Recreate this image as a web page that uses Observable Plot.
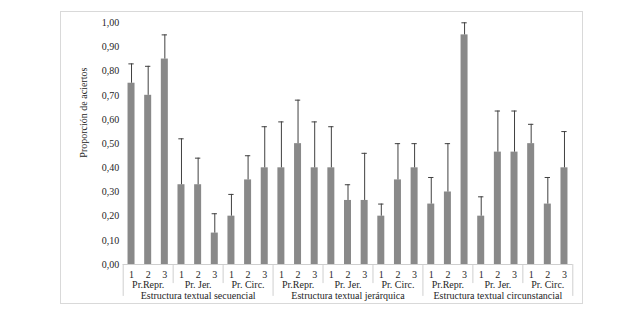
<!DOCTYPE html>
<html>
<head>
<meta charset="utf-8">
<script src="https://cdn.jsdelivr.net/npm/d3@7"></script>
<script src="https://cdn.jsdelivr.net/npm/@observablehq/plot@0.6"></script>
<style>
  html, body { margin: 0; padding: 0; background: #fff; }
  #wrap { position: relative; width: 640px; height: 323px; }
  #border { position: absolute; left: 60px; top: 11px; width: 521px; height: 291px; border: 1px solid #d9d9d9; }
  #chart { position: absolute; left: 0; top: 0; }
</style>
</head>
<body>
<div id="wrap"><div id="border"></div><div id="chart"></div></div>
<script>
const groups = ["Estructura textual secuencial", "Estructura textual jerárquica", "Estructura textual circunstancial"];
const subgroups = ["Pr.Repr.", "Pr. Jer.", "Pr. Circ."];
const levels = ["1", "2", "3"];
const means = [0.75, 0.70, 0.85, 0.33, 0.33, 0.13, 0.20, 0.35, 0.40,
               0.40, 0.50, 0.40, 0.40, 0.265, 0.265, 0.20, 0.35, 0.40,
               0.25, 0.30, 0.95, 0.20, 0.465, 0.465, 0.50, 0.25, 0.40];
const errors = [0.08, 0.12, 0.10, 0.19, 0.11, 0.08, 0.09, 0.10, 0.17,
                0.19, 0.18, 0.19, 0.17, 0.065, 0.195, 0.05, 0.15, 0.10,
                0.11, 0.20, 0.05, 0.08, 0.17, 0.17, 0.08, 0.11, 0.15];
const yTicks = [0, 0.1, 0.2, 0.3, 0.4, 0.5, 0.6, 0.7, 0.8, 0.9, 1.0];
const yTitle = "Proporción de aciertos";

const data = means.map((m, i) => ({
  i, mean: m, top: m + errors[i],
  level: levels[i % 3],
  sub: subgroups[Math.floor(i / 3) % 3],
  group: groups[Math.floor(i / 9)]
}));
const subData = [];
groups.forEach((g, gi) => subgroups.forEach((s, si) => subData.push({label: s, x: gi * 9 + si * 3 + 1.5})));
const groupData = groups.map((g, gi) => ({label: g, x: gi * 9 + 4.5}));
const shortSeps = [3, 6, 12, 15, 21, 24];
const longSeps = [0, 9, 18, 27];

const axisGray = "#cfcfcf";
const txt = "#262626";

const chart = Plot.plot({
  width: 640, height: 323,
  marginLeft: 122.7, marginRight: 67.7, marginTop: 22.3, marginBottom: 59,
  x: {domain: [0, 27], axis: null},
  y: {domain: [0, 1], axis: null},
  style: {fontFamily: "'Liberation Serif', 'Times New Roman', serif", fontSize: "10px", color: txt, background: "transparent"},
  marks: [
    Plot.axisY(yTicks, {tickSize: 0, tickPadding: 4, tickFormat: d => d.toFixed(2).replace(".", ","), label: null, fill: txt}),
    Plot.text([yTitle], {frameAnchor: "left", dx: -39, dy: 14, rotate: -90, fill: txt}),
    Plot.rectY(data, {x1: d => d.i + 0.29, x2: d => d.i + 0.71, y: "mean", fill: "#898989"}),
    Plot.ruleX(data, {x: d => d.i + 0.5, y1: "mean", y2: "top", stroke: "#404040", strokeWidth: 1}),
    Plot.ruleY(data, {y: "top", x1: d => d.i + 0.34, x2: d => d.i + 0.66, stroke: "#404040", strokeWidth: 1}),
    Plot.ruleY([0], {stroke: axisGray}),
    Plot.ruleX(shortSeps, {y1: 0, y2: -0.079, stroke: axisGray}),
    Plot.ruleX(longSeps, {y1: 0, y2: -0.132, stroke: axisGray}),
    Plot.text(data, {x: d => d.i + 0.5, y: 0, dy: 10, text: "level", fill: txt}),
    Plot.text(subData, {x: "x", y: 0, dy: 20, text: "label", fill: txt}),
    Plot.text(groupData, {x: "x", y: 0, dy: 31, text: "label", fill: txt})
  ]
});
document.getElementById("chart").appendChild(chart);
</script>
</body>
</html>
